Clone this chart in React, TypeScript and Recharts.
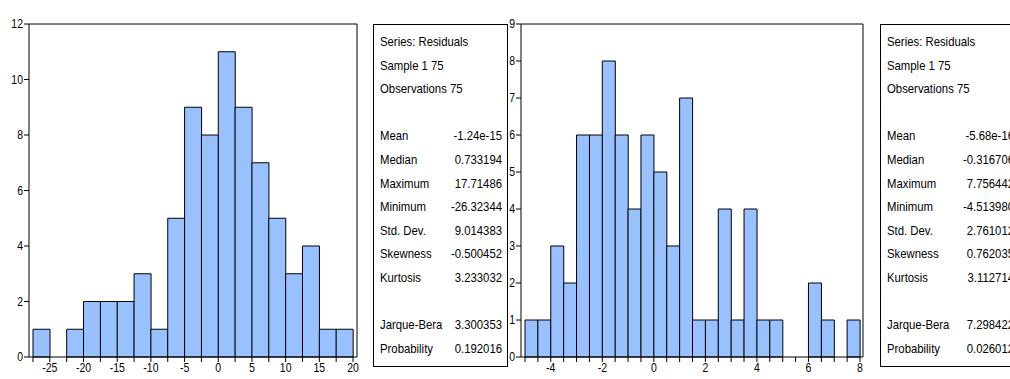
import React from "react"
import { Bar, CartesianGrid, ComposedChart, Line, XAxis, YAxis } from "recharts"

// left histogram: bins of width 2.5, lower edges
const bins1 = [-27.5, -25, -22.5, -20, -17.5, -15, -12.5, -10, -7.5, -5, -2.5, 0, 2.5, 5, 7.5, 10, 12.5, 15, 17.5]
const counts1 = [1, 0, 1, 2, 2, 2, 3, 1, 5, 9, 8, 11, 9, 7, 5, 3, 4, 1, 1]
const xTicks1 = [-27.5, -25, -22.5, -20, -17.5, -15, -12.5, -10, -7.5, -5, -2.5, 0, 2.5, 5, 7.5, 10, 12.5, 15, 17.5, 20]
const xLabels1 = [-25, -20, -15, -10, -5, 0, 5, 10, 15, 20]
const yTicks1 = [0, 2, 4, 6, 8, 10, 12]

// right histogram: bins of width 0.5
const bins2 = [-5, -4.5, -4, -3.5, -3, -2.5, -2, -1.5, -1, -0.5, 0, 0.5, 1, 1.5, 2, 2.5, 3, 3.5, 4, 4.5, 5, 5.5, 6, 6.5, 7, 7.5]
const counts2 = [1, 1, 3, 2, 6, 6, 8, 6, 4, 6, 5, 3, 7, 1, 1, 4, 1, 4, 1, 1, 0, 0, 2, 1, 0, 1]
const xTicks2 = [-5, -4.5, -4, -3.5, -3, -2.5, -2, -1.5, -1, -0.5, 0, 0.5, 1, 1.5, 2, 2.5, 3, 3.5, 4, 4.5, 5, 5.5, 6, 6.5, 7, 7.5, 8]
const xLabels2 = [-4, -2, 0, 2, 4, 6, 8]
const yTicks2 = [0, 1, 2, 3, 4, 5, 6, 7, 8, 9]

const headerLines = ["Series: Residuals", "Sample 1 75", "Observations 75"]
const statNames = ["Mean", "Median", "Maximum", "Minimum", "Std. Dev.", "Skewness", "Kurtosis"]
const statValues1 = ["-1.24e-15", "0.733194", "17.71486", "-26.32344", "9.014383", "-0.500452", "3.233032"]
const statValues2 = ["-5.68e-16", "-0.316706", "7.756442", "-4.513980", "2.761012", "0.762035", "3.112714"]
const testNames = ["Jarque-Bera", "Probability"]
const testValues1 = ["3.300353", "0.192016"]
const testValues2 = ["7.298422", "0.026012"]

const font = "'Liberation Sans', Arial, sans-serif"
const squeeze = 0.84 // no narrow font installed, so squeeze the glyphs
const barFill = "#99C0FF"

const NarrowTick = (props: any) => {
  const { x, y, payload, anchor, labels } = props
  if (labels && !labels.includes(payload.value)) return <g />
  return (
    <g transform={`translate(${x},${y})`}>
      <text
        x={0}
        y={0}
        dy={anchor === "end" ? "0.35em" : "0.75em"}
        textAnchor={anchor}
        transform={`scale(${squeeze},1)`}
        fontSize={12.5}
        fontFamily={font}
        fill="#000"
      >
        {payload.value}
      </text>
    </g>
  )
}

interface HistProps {
  bins: number[]
  counts: number[]
  xTicks: number[]
  xLabels: number[]
  yTicks: number[]
  width: number
  yAxisWidth: number
  padLeft: number
  padRight: number
}

function Histogram({ bins, counts, xTicks, xLabels, yTicks, width, yAxisWidth, padLeft, padRight }: HistProps) {
  const step = bins[1] - bins[0]
  const data = bins.map((b, i) => ({ bin: b, mid: b + step / 2, count: counts[i] }))
  const xDomain = [xTicks[0], xTicks[xTicks.length - 1]]
  const yDomain = [0, yTicks[yTicks.length - 1]]
  return (
    <ComposedChart
      width={width}
      height={379}
      data={data}
      margin={{ top: 24, right: 3, left: 0, bottom: 0 }}
      barCategoryGap={0}
      barGap={0}
    >
      <CartesianGrid
        stroke="#000"
        horizontalCoordinatesGenerator={({ offset }: any) => [offset.top]}
        verticalCoordinatesGenerator={({ offset }: any) => [offset.left + offset.width]}
      />
      <XAxis
        xAxisId="num"
        dataKey="mid"
        type="number"
        domain={xDomain}
        ticks={xTicks}
        interval={0}
        allowDataOverflow
        padding={{ left: padLeft, right: padRight }}
        height={22}
        tickSize={5}
        tickMargin={1}
        axisLine={{ stroke: "#000" }}
        tickLine={{ stroke: "#000" }}
        tick={<NarrowTick anchor="middle" labels={xLabels} />}
      />
      <XAxis xAxisId="bins" dataKey="bin" type="category" hide height={0} padding={{ left: padLeft, right: padRight }} />
      <YAxis
        yAxisId="left"
        domain={yDomain}
        ticks={yTicks}
        interval={0}
        width={yAxisWidth}
        tickSize={5}
        tickMargin={1}
        axisLine={{ stroke: "#000" }}
        tickLine={{ stroke: "#000" }}
        tick={<NarrowTick anchor="end" />}
      />
      <Bar
        xAxisId="bins"
        yAxisId="left"
        dataKey="count"
        fill={barFill}
        stroke="#000"
        strokeWidth={1}
        isAnimationActive={false}
      />
      <Line
        xAxisId="num"
        yAxisId="left"
        dataKey="count"
        stroke="none"
        dot={false}
        activeDot={false}
        isAnimationActive={false}
      />
    </ComposedChart>
  )
}

function StatsBox({ left, width, statValues, testValues }: { left: number; width: number; statValues: string[]; testValues: string[] }) {
  const inner = (width - 2 - 6 - 5) / squeeze
  const row = (label: string, value: string, key: string) => (
    <div key={key} style={{ display: "flex", justifyContent: "space-between", height: 23.6, lineHeight: "23.6px" }}>
      <span>{label}</span>
      <span>{value}</span>
    </div>
  )
  return (
    <div
      style={{
        position: "absolute",
        left,
        top: 24,
        width,
        height: 343,
        boxSizing: "border-box",
        border: "1px solid #000",
        fontFamily: font,
        fontSize: 13.5,
        color: "#000",
        background: "#fff",
      }}
    >
      <div
        style={{
          position: "absolute",
          left: 6,
          top: 5,
          width: inner,
          transform: `scaleX(${squeeze})`,
          transformOrigin: "left top",
          whiteSpace: "nowrap",
        }}
      >
        {headerLines.map((h, i) => row(h, "", "h" + i))}
        {row("\u00a0", "", "b1")}
        {statNames.map((n, i) => row(n, statValues[i], "s" + i))}
        {row("\u00a0", "", "b2")}
        {testNames.map((n, i) => row(n, testValues[i], "t" + i))}
      </div>
    </div>
  )
}

export default function App() {
  return (
    <div
      style={{
        position: "fixed",
        left: 0,
        top: 0,
        width: 1010,
        height: 379,
        overflow: "hidden",
        background: "#fff",
      }}
    >
      <div style={{ position: "absolute", left: 0, top: 0 }}>
        <Histogram
          bins={bins1}
          counts={counts1}
          xTicks={xTicks1}
          xLabels={xLabels1}
          yTicks={yTicks1}
          width={360}
          yAxisWidth={29}
          padLeft={4}
          padRight={4}
        />
      </div>
      <StatsBox left={373} width={135} statValues={statValues1} testValues={testValues1} />
      <div style={{ position: "absolute", left: 495, top: 0 }}>
        <Histogram
          bins={bins2}
          counts={counts2}
          xTicks={xTicks2}
          xLabels={xLabels2}
          yTicks={yTicks2}
          width={371}
          yAxisWidth={26}
          padLeft={4}
          padRight={3}
        />
      </div>
      <StatsBox left={880} width={140} statValues={statValues2} testValues={testValues2} />
    </div>
  )
}
